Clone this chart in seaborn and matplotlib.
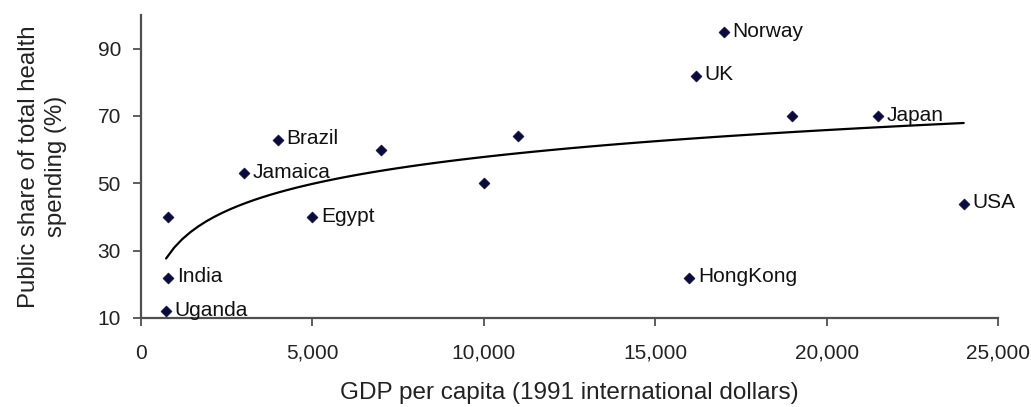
import matplotlib
matplotlib.use("Agg")
import matplotlib.pyplot as plt
import matplotlib.ticker as mticker
import seaborn as sns
import pandas as pd

# GDP per capita (1991 international dollars) and public share of health spending (%)
countries = ["Uganda", "India", "", "Jamaica", "Brazil", "Egypt", "", "", "",
             "HongKong", "UK", "Norway", "", "Japan", "USA"]
gdp = [730, 800, 800, 3000, 4000, 5000, 7000, 10000, 11000,
       16000, 16200, 17000, 19000, 21500, 24000]
public_share = [12, 22, 40, 53, 63, 40, 60, 50, 64,
                22, 82, 95, 70, 70, 44]

x_ticks = [0, 5000, 10000, 15000, 20000, 25000]
y_ticks = [10, 30, 50, 70, 90]

df = pd.DataFrame({"country": countries, "gdp": gdp, "share": public_share})

sns.set_style("ticks")
plt.rcParams["font.family"] = ["Liberation Sans", "DejaVu Sans"]

fig = plt.figure(figsize=(10.31, 4.07), dpi=100)
ax = fig.add_axes([0.1368, 0.2187, 0.8312, 0.7445])

point_color = "#0a0a3c"
axis_color = "#505050"

# logarithmic trend line fitted to the points
sns.regplot(data=df, x="gdp", y="share", logx=True, ci=None, scatter=False,
            truncate=True, ax=ax, line_kws={"color": "black", "linewidth": 1.6})

sns.scatterplot(data=df, x="gdp", y="share", marker="D", s=32, color=point_color,
                edgecolor=point_color, linewidth=0.4, ax=ax, clip_on=False, zorder=3)

for name, xv, yv in zip(countries, gdp, public_share):
    if name:
        ax.annotate(name, (xv, yv), xytext=(6, 0.5), textcoords="offset points",
                    va="center", ha="left", fontsize=15, color="#111111")

ax.set_xlim(0, 25000)
ax.set_ylim(10, 100)
ax.set_xticks(x_ticks)
ax.set_yticks(y_ticks)
ax.xaxis.set_major_formatter(mticker.FuncFormatter(lambda v, p: f"{int(v):,}"))

ax.set_xlabel("GDP per capita (1991 international dollars)", fontsize=17.5, color="#222222")
ax.set_ylabel("Public share of total health\nspending (%)", fontsize=17.3, color="#222222",
              linespacing=1.3)
ax.xaxis.set_label_coords(0.5, -0.21)
ax.yaxis.set_label_coords(-0.086, 0.5)

sns.despine(ax=ax)
for side in ("left", "bottom"):
    ax.spines[side].set_color(axis_color)
    ax.spines[side].set_linewidth(1.6)

ax.tick_params(axis="x", direction="out", length=5.5, width=1.3, color=axis_color,
               pad=13, labelsize=15, labelcolor="#222222")
ax.tick_params(axis="y", direction="out", length=5.5, width=1.3, color=axis_color,
               pad=9, labelsize=15, labelcolor="#222222")

fig.savefig("out.png", dpi=100, facecolor="white")
